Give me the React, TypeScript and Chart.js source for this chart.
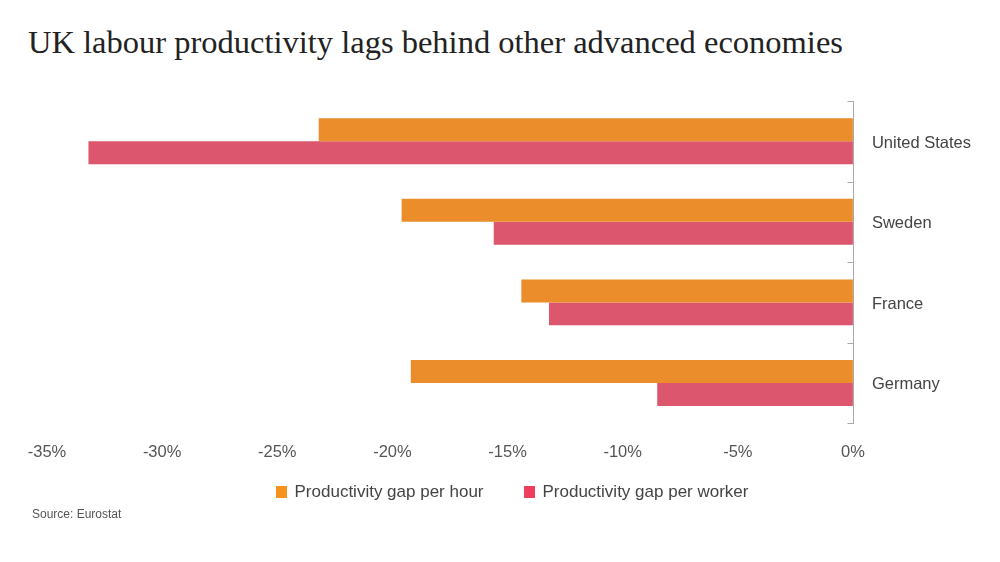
import React, { useEffect, useRef } from "react";
import { Chart, registerables } from "chart.js";

Chart.register(...registerables);

const categories = ["United States", "Sweden", "France", "Germany"];
const gapPerHour = [-23.2, -19.6, -14.4, -19.2];
const gapPerWorker = [-33.2, -15.6, -13.2, -8.5];
const seriesNames = ["Productivity gap per hour", "Productivity gap per worker"];
const barColors = ["#EA8D2A", "#DC566D"];
const legendColors = ["#F7911E", "#EF3D5E"];

const SANS = "'Liberation Sans', Arial, sans-serif";

const boundaryTicks = {
  id: "boundaryTicks",
  afterDraw(chart: any) {
    const y = chart.scales.y;
    const x = chart.scales.x;
    const ctx = chart.ctx;
    const x0 = Math.round(x.getPixelForValue(0)) + 0.5;
    const n = categories.length;
    const step = n > 1 ? y.getPixelForValue(1) - y.getPixelForValue(0) : y.height;
    ctx.save();
    ctx.strokeStyle = "#A8A8A8";
    ctx.lineWidth = 1;
    for (let i = 0; i <= n; i++) {
      const py = Math.round(y.getPixelForValue(i) - step / 2) + 0.5;
      ctx.beginPath();
      ctx.moveTo(x0 - 6, py);
      ctx.lineTo(x0, py);
      ctx.stroke();
    }
    ctx.beginPath();
    ctx.moveTo(x0, Math.round(y.getPixelForValue(0) - step / 2));
    ctx.lineTo(x0, Math.round(y.getPixelForValue(n - 1) + step / 2) + 1);
    ctx.stroke();
    ctx.restore();
  },
};

const bottomLegend = {
  id: "bottomLegend",
  afterDraw(chart: any) {
    const ctx = chart.ctx;
    const fontSize = 17;
    const box = 12;
    const boxGap = 7;
    const itemGap = 40;
    ctx.save();
    ctx.font = `${fontSize}px ${SANS}`;
    const names = chart.data.datasets.map((d: any) => d.label as string);
    const widths = names.map((t: string) => box + boxGap + ctx.measureText(t).width);
    const total = widths.reduce((a: number, b: number) => a + b, 0) + itemGap * (names.length - 1);
    let cx = (chart.width - total) / 2 + 12;
    const cy = chart.chartArea.bottom + 69;
    names.forEach((t: string, i: number) => {
      ctx.fillStyle = legendColors[i];
      ctx.fillRect(Math.round(cx), Math.round(cy - box / 2), box - 1, box);
      ctx.fillStyle = "#444444";
      ctx.textBaseline = "middle";
      ctx.textAlign = "left";
      ctx.fillText(t, cx + box + boxGap, cy);
      cx += widths[i] + itemGap;
    });
    ctx.restore();
  },
};

export default function App() {
  const ref = useRef<HTMLCanvasElement | null>(null);
  useEffect(() => {
    if (!ref.current) return;
    const chart = new Chart(ref.current, {
      type: "bar",
      data: {
        labels: categories,
        datasets: [
          {
            label: seriesNames[0],
            data: gapPerHour,
            backgroundColor: barColors[0],
            borderWidth: 0,
            barPercentage: 1,
            categoryPercentage: 0.57,
          },
          {
            label: seriesNames[1],
            data: gapPerWorker,
            backgroundColor: barColors[1],
            borderWidth: 0,
            barPercentage: 1,
            categoryPercentage: 0.57,
          },
        ],
      },
      options: {
        indexAxis: "y",
        responsive: false,
        animation: false,
        layout: { padding: { top: 101, left: 47, right: 10, bottom: 81 } },
        scales: {
          x: {
            min: -35,
            max: 0,
            ticks: {
              stepSize: 5,
              padding: 19,
              color: "#555555",
              font: { family: SANS, size: 16.5 },
              callback: (v: any) => `${v}%`,
            },
            grid: { display: false, drawTicks: false },
            border: { display: false },
          },
          y: {
            position: "right",
            ticks: {
              padding: 19,
              labelOffset: 2,
              color: "#444444",
              font: { family: SANS, size: 16.5 },
            },
            grid: { display: false, drawTicks: false },
            border: { display: false },
          },
        },
        plugins: {
          tooltip: { enabled: false },
          legend: { display: false },
        },
      },
      plugins: [boundaryTicks, bottomLegend],
    });
    return () => chart.destroy();
  }, []);
  return (
    <div style={{ position: "absolute", left: 0, top: 0, width: 1000, height: 562, background: "#fff" }}>
      <div
        style={{
          position: "absolute",
          left: 28,
          top: 24,
          fontFamily: "'Liberation Serif', 'Times New Roman', serif",
          fontSize: 32.5,
          color: "#222",
          whiteSpace: "nowrap",
        }}
      >
        UK labour productivity lags behind other advanced economies
      </div>
      <canvas ref={ref} width={1000} height={562} style={{ position: "absolute", left: 0, top: 0 }} />
      <div
        style={{
          position: "absolute",
          left: 32,
          top: 507,
          fontFamily: SANS,
          fontSize: 12,
          color: "#555",
          whiteSpace: "nowrap",
        }}
      >
        Source: Eurostat
      </div>
    </div>
  );
}
